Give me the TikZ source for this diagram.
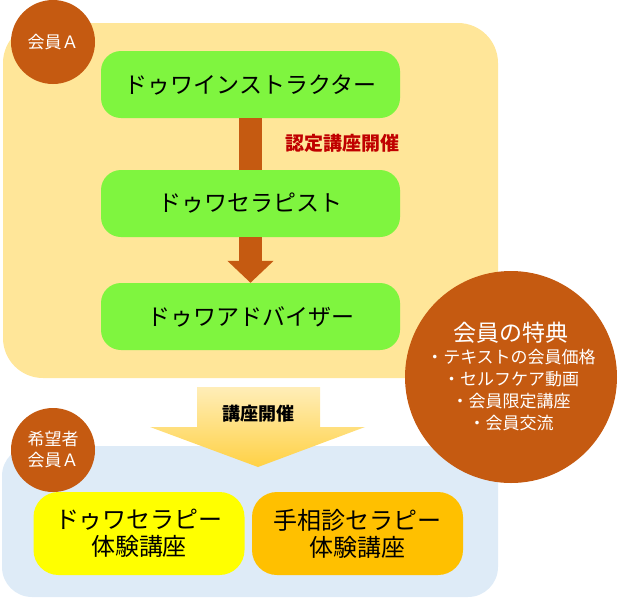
\documentclass[tikz,border=0pt]{standalone}
\usepackage{fontspec}
\setmainfont{Noto Sans CJK JP}
\usetikzlibrary{arrows.meta}
\definecolor{panelyellow}{HTML}{FFE699}
\definecolor{panelblue}{HTML}{DEEBF7}
\definecolor{brownish}{HTML}{C55A11}
\definecolor{levelgreen}{HTML}{7FF53F}
\definecolor{trialyellow}{HTML}{FFFF00}
\definecolor{trialorange}{HTML}{FFC000}
\definecolor{darkred}{HTML}{C00000}
\tikzset{
  panel/.style={rectangle, inner sep=0pt},
  badge/.style={circle, fill=brownish, text=white, inner sep=0pt, minimum size=84pt, align=center, font=\fontsize{17}{21}\selectfont},
  level/.style={rectangle, rounded corners=20pt, fill=levelgreen, minimum width=299pt, minimum height=67pt, font=\fontsize{23}{27}\selectfont},
  trial/.style={rectangle, rounded corners=25pt, minimum width=211pt, minimum height=83pt, align=center, font=\fontsize{24}{27}\selectfont},
  bar/.style={draw=brownish, line width=23pt},
}
\begin{document}
\begin{tikzpicture}[x=1pt,y=-1pt]
\useasboundingbox (0,0) rectangle (622,598);
\node[panel, rounded corners=40pt, fill=panelyellow, minimum width=495pt, minimum height=355pt] (members) at (250.5,200.5) {};
\node[panel, rounded corners=30pt, fill=panelblue, minimum width=496pt, minimum height=151pt] (guests) at (250,521.5) {};
% levels
\node[level] (instr) at (250.5,84.5) {ドゥワインストラクター};
\node[level] (thera) at (250.5,203.5) {ドゥワセラピスト};
\node[level] (advis) at (250.5,316.5) {ドゥワアドバイザー};
\draw[bar] (instr.south) -- (thera.north);
\draw[bar,-{Triangle[width=45pt,length=22pt]}] (thera.south) -- (advis.north);
\node[text=darkred, font=\bfseries\fontsize{19}{22}\selectfont] (certif) at (342,143) {認定講座開催};
% big arrow down to the trial courses
\path[top color=panelyellow!70!white, bottom color=trialorange!55!panelyellow] (197,387) -- (320,387) -- (320,427) -- (365,427) -- (258,467) -- (150,427) -- (197,427) -- cycle;
\node[font=\bfseries\fontsize{18}{21}\selectfont] (course) at (258,414) {講座開催};
% trial courses
\node[trial, fill=trialyellow] (dowa) at (139,533.5) {ドゥワセラピー\\体験講座};
\node[trial, fill=trialorange] (palm) at (357.5,533.5) {手相診セラピー\\体験講座};
% badges
\node[badge] (memA) at (53,42) {会員Ａ};
\node[badge] (hope) at (53,450) {希望者\\会員Ａ};
\node[circle, fill=brownish, text=white, minimum size=212pt, inner sep=0pt, align=center, font=\fontsize{17}{22}\selectfont] (perks) at (511,377) {{\fontsize{23}{25}\selectfont 会員の特典}\\・テキストの会員価格\\・セルフケア動画\\・会員限定講座\\・会員交流};
\end{tikzpicture}
\end{document}
